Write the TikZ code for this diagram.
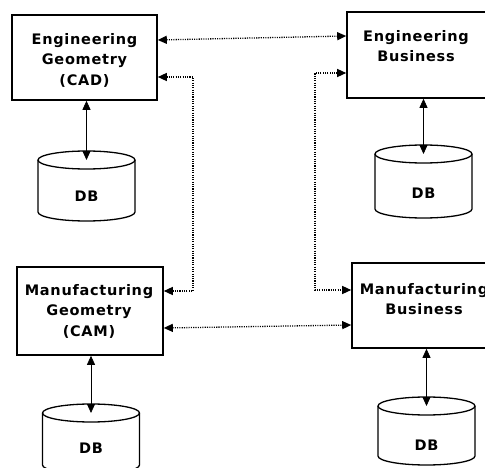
\documentclass[tikz,border=0pt]{standalone}
\usepackage{fontspec}
\setmainfont{DejaVu Sans}[LetterSpace=5]
\usetikzlibrary{arrows.meta}
\newcommand\dbcyl[5]{%
  \coordinate (#1top) at (#2,#3+9);
  \draw[dbline] (#2,#3+9) ellipse [x radius=48.5pt,y radius=9pt];
  \draw[dbline] (#2-48.5,#3+9) -- (#2-48.5,#4-9)
    .. controls (#2-48.5,#4-4) and (#2-26.8,#4) .. (#2,#4)
    .. controls (#2+26.8,#4) and (#2+48.5,#4-4) .. (#2+48.5,#4-9) -- (#2+48.5,#3+9);
  \node[dbt] (#1) at (#2,#5) {DB};}
\begin{document}
\begin{tikzpicture}[x=1pt,y=-1pt,
  box/.style={draw,line width=1.6pt,minimum width=#1,minimum height=86pt,inner sep=0pt},
  lbl/.style={align=center,font=\fontsize{14.5}{20.5}\selectfont\bfseries,inner sep=0pt},
  dbline/.style={line width=1.3pt},
  dbt/.style={font=\fontsize{14.5}{14}\selectfont\bfseries,inner sep=0pt},
  tip/.style={{Triangle[length=9pt,width=8pt]}-{Triangle[length=9pt,width=8pt]}},
  solidc/.style={tip,line width=0.8pt},
  dotc/.style={tip,line width=1.3pt,dash pattern=on 1.1pt off 1.2pt}]
\useasboundingbox (0,0) rectangle (485,468);
% boxes
\node[box=145pt,minimum height=85pt] (eg) at (84.5,57.5) {};
\node[lbl] (egt) at (84.5,60) {Engineering\\Geometry\\(CAD)};
\node[box=143pt] (eb) at (418.5,55) {};
\node[lbl] (ebt) at (416,46) {Engineering\\Business};
\node[box=146pt,minimum height=88pt] (mg) at (90,311) {};
\node[lbl] (mgt) at (89,311) {Manufacturing\\Geometry\\(CAM)};
\node[box=143pt,minimum height=85pt] (mb) at (423.5,305.5) {};
\node[lbl] (mbt) at (424,299) {Manufacturing\\Business};
% databases
\dbcyl{d1}{86.5}{151}{221}{196}
\dbcyl{d2}{423.5}{145}{218}{193}
\dbcyl{d3}{91}{404}{474}{448}
\dbcyl{d4}{426.5}{397}{465}{445}
% solid connectors
\draw[solidc] (eg.south -| d1top) -- (d1top);
\draw[solidc] (eb.south -| d2top) -- (d2top);
\draw[solidc] (mg.south -| d3top) -- (d3top);
\draw[solidc] (mb.south -| d4top) -- (d4top);
% dotted connectors
\coordinate (c1) at (193,77);
\coordinate (c2) at (193,291);
\coordinate (c3) at (315,73);
\coordinate (c4) at (315,290);
\draw[dotc] (eg.east |- 0,40) -- (eb.west |- 0,36);
\draw[dotc] (eg.east |- c1) -- (c1) -- (c2) -- (mg.east |- c2);
\draw[dotc] (eb.west |- c3) -- (c3) -- (c4) -- (mb.west |- c4);
\draw[dotc] (mg.east |- 0,328) -- (mb.west |- 0,325);
\end{tikzpicture}
\end{document}
